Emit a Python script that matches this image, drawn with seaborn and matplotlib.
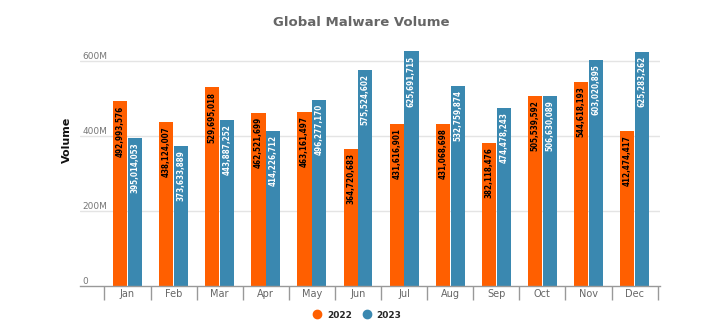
import matplotlib
matplotlib.use("Agg")
import matplotlib.pyplot as plt
import seaborn as sns
import pandas as pd
from matplotlib.lines import Line2D

months = ["Jan", "Feb", "Mar", "Apr", "May", "Jun", "Jul", "Aug", "Sep", "Oct", "Nov", "Dec"]
vol_2022 = [492993576, 438124007, 529695018, 462521699, 463161497, 364720683,
            431616901, 431068698, 382118476, 505539592, 544618193, 412474417]
vol_2023 = [395014053, 373633889, 443887252, 414226712, 496277170, 575524602,
            625691715, 532759874, 474478243, 506630089, 603020895, 625283262]
years = ["2022", "2023"]
ytick_vals = [0, 200e6, 400e6, 600e6]
ytick_labels = ["0", "200M", "400M", "600M"]

c22 = "#FF5F00"
c23 = "#3A88B0"

df = pd.DataFrame({
    "Month": months * 2,
    "Year": [years[0]] * 12 + [years[1]] * 12,
    "Volume": vol_2022 + vol_2023,
})

sns.set_theme(style="white")
plt.rcParams["font.family"] = ["DejaVu Sans"]

fig = plt.figure(figsize=(7.23, 3.36), dpi=100)
ax = fig.add_axes([80 / 723, 1 - 286 / 336, (660 - 80) / 723, (286 - 42.25) / 336])

sns.barplot(data=df, x="Month", y="Volume", hue="Year", order=months,
            palette=[c22, c23], width=0.64, gap=0.04, saturation=1,
            linewidth=0, legend=False, ax=ax)

ax.set_xlim(-1.03, 11.55)
ax.set_ylim(0, 650e6)

# value labels
for cont, col in zip(ax.containers, ["black", "white"]):
    for bar in cont:
        h = bar.get_height()
        ax.annotate(f"{int(round(h)):,}", (bar.get_x() + bar.get_width() / 2, h),
                    xytext=(0, -3), textcoords="offset points", rotation=90,
                    ha="center", va="top", fontsize=5.8, color=col,
                    fontweight="semibold", fontstretch="condensed")

# grid
for v in ytick_vals[1:]:
    ax.axhline(v, color="#e4e4e4", lw=1, zorder=0)
ax.set_yticks([])
for v, lab in zip(ytick_vals, ytick_labels):
    ax.text(0.004, v, lab, transform=ax.get_yaxis_transform(), ha="left",
            va="bottom", fontsize=6.5, color="#777777")

# x axis
for s in ["top", "right", "left"]:
    ax.spines[s].set_visible(False)
ax.spines["bottom"].set_color("#999999")
ax.spines["bottom"].set_linewidth(1)
ax.set_xticks(range(12))
ax.set_xticklabels(months, fontsize=7, color="#666666")
ax.set_xticks([i - 0.5 for i in range(13)], minor=True)
ax.tick_params(axis="x", which="major", length=0, pad=2)
ax.tick_params(axis="x", which="minor", bottom=True, length=10, color="#999999",
               width=1, direction="out")
ax.set_xlabel("")
ax.set_ylabel("")

fig.text(67 / 723, 1 - 140 / 336, "Volume", rotation=90, ha="center", va="center",
         fontsize=8, fontweight="bold", color="#111111")
fig.text(0.5, 1 - 22 / 336, "Global Malware Volume", ha="center", va="center",
         fontsize=9.5, fontweight="bold", color="#666666")

handles = [Line2D([], [], marker="o", ls="", color=c, markersize=6) for c in (c22, c23)]
fig.legend(handles, years, loc="center", bbox_to_anchor=(355 / 723, 1 - 315 / 336),
           ncol=2, frameon=False, handletextpad=0.1, columnspacing=0.6,
           prop={"size": 6.5, "weight": "semibold"})

fig.savefig("out.png", dpi=100)
